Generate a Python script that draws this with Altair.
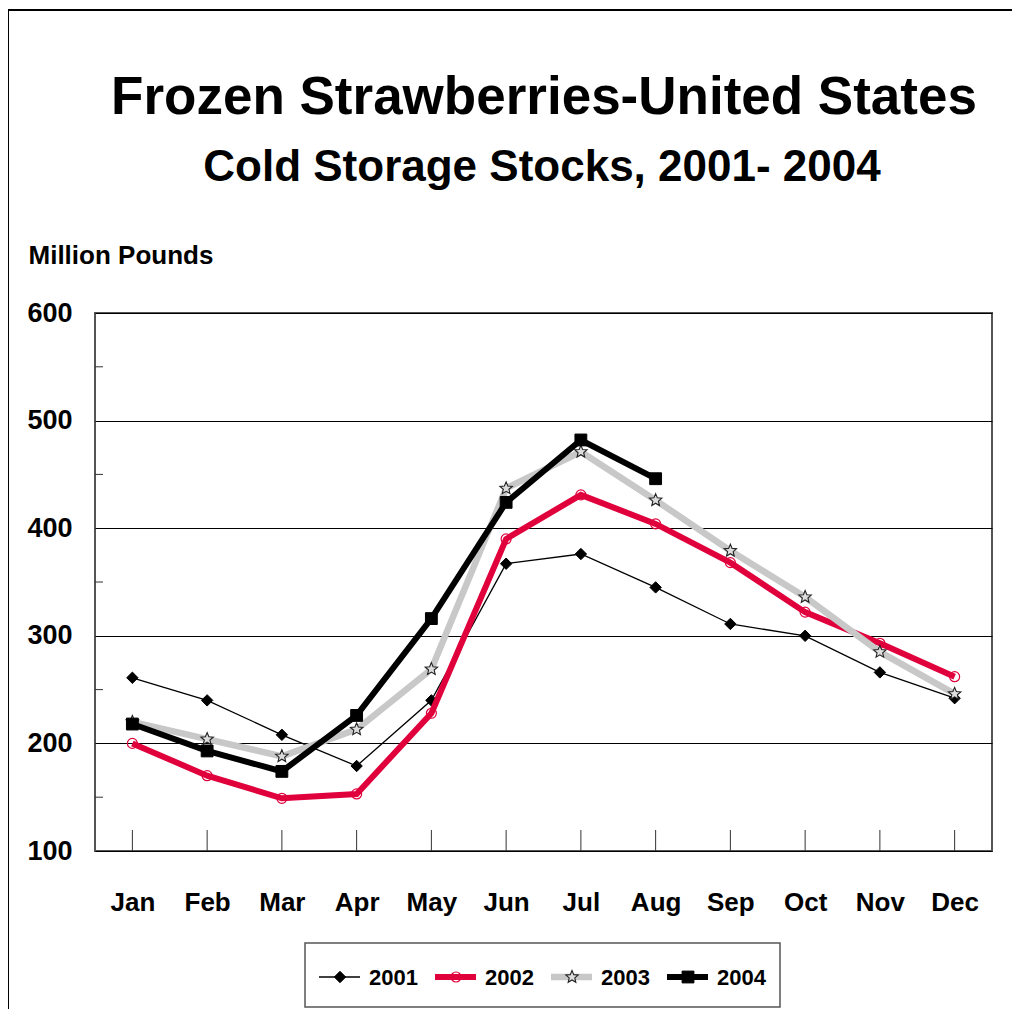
import math
import altair as alt
import pandas as pd

# ---- data ----
months = ["Jan", "Feb", "Mar", "Apr", "May", "Jun", "Jul", "Aug", "Sep", "Oct", "Nov", "Dec"]
years = ["2001", "2002", "2003", "2004"]
v2001 = [261, 240, 208, 179, 240, 367, 376, 345, 311, 300, 266, 242]
v2002 = [200, 170, 149, 153, 228, 390, 431, 404, 368, 322, 293, 262]
v2003 = [220, 204, 188, 213, 269, 437, 471, 426, 379, 336, 285, 246]
v2004 = [218, 193, 174, 226, 316, 424, 482, 446]
y_ticks = [100, 200, 300, 400, 500, 600]
minor_ticks = [150, 250, 350, 450, 550]

title_text = "Frozen Strawberries-United States"
subtitle_text = "Cold Storage Stocks, 2001- 2004"
y_title = "Million Pounds"

FONT = "Liberation Sans, Arial, Helvetica, sans-serif"

series = {"2001": v2001, "2002": v2002, "2003": v2003, "2004": v2004}

# star symbol path in unit coords
pts = []
for k in range(10):
    a = math.radians(-90 + 36 * k)
    r = 1.0 if k % 2 == 0 else 0.45
    pts.append(f"{r * math.cos(a):.3f},{r * math.sin(a):.3f}")
STAR = "M" + "L".join(pts) + "Z"

RED = "#E0003C"
GRAY = "#C8C8C8"
styles = {
    "2001": dict(line="black", lw=1.3, shape="diamond", size=130, filled=True, fill="black", stroke="black", sw=1),
    "2002": dict(line=RED, lw=6, shape="circle", size=100, filled=False, fill=None, stroke=RED, sw=1.2),
    "2003": dict(line=GRAY, lw=6.5, shape=STAR, size=170, filled=True, fill="#DDDDDD", stroke="#222222", sw=1.1),
    "2004": dict(line="black", lw=6, shape="square", size=140, filled=True, fill="black", stroke="black", sw=1),
}

W, H = 897, 538

xenc = alt.X("month:N", sort=months, scale=alt.Scale(type="point", padding=0.5),
             axis=alt.Axis(title=None))
yscale = alt.Scale(domain=[100, 600], nice=False, zero=False)
yenc = alt.Y("value:Q", scale=yscale,
             axis=alt.Axis(values=y_ticks, title=y_title, titleAngle=0, titleX=-67, titleY=-50,
                           titleAlign="left", titleBaseline="alphabetic"))

layers = []

# inside x ticks
tick_df = pd.DataFrame({"month": months})
layers.append(alt.Chart(tick_df).mark_rule(color="#333333", strokeWidth=1).encode(
    x=xenc, y=alt.value(H - 21), y2=alt.value(H)))

# minor y ticks
minor_df = pd.DataFrame({"value": minor_ticks})
layers.append(alt.Chart(minor_df).mark_rule(color="#333333", strokeWidth=1).encode(
    y=yenc, x=alt.value(0), x2=alt.value(8)))

for yr in years:
    vals = series[yr]
    df = pd.DataFrame({"month": months[:len(vals)], "value": vals, "year": yr})
    st = styles[yr]
    base = alt.Chart(df)
    layers.append(base.mark_line(color=st["line"], strokeWidth=st["lw"], strokeJoin="miter").encode(
        x=xenc, y=yenc))
    pkw = dict(shape=st["shape"], size=st["size"], filled=st["filled"], stroke=st["stroke"],
               strokeWidth=st["sw"], opacity=1)
    if st["fill"] is not None:
        pkw["fill"] = st["fill"]
    layers.append(base.mark_point(**pkw).encode(x=xenc, y=yenc))

# titles
tdf = pd.DataFrame({"t": [title_text]})
layers.append(alt.Chart(tdf).mark_text(font=FONT, fontSize=53, fontWeight="bold", color="black",
                                       align="center", baseline="alphabetic").encode(
    text="t:N", x=alt.value(449), y=alt.value(-199)))
sdf = pd.DataFrame({"t": [subtitle_text]})
layers.append(alt.Chart(sdf).mark_text(font=FONT, fontSize=44, fontWeight="bold", color="black",
                                       align="center", baseline="alphabetic").encode(
    text="t:N", x=alt.value(447), y=alt.value(-132)))

# outer frame lines (top and left)
one = pd.DataFrame({"a": [0]})
layers.append(alt.Chart(one).mark_rule(color="black", strokeWidth=2).encode(
    x=alt.value(-87), y=alt.value(-303), y2=alt.value(H + 160)))
layers.append(alt.Chart(one).mark_rule(color="black", strokeWidth=2).encode(
    x=alt.value(-88), x2=alt.value(W + 40), y=alt.value(-303)))

# legend box
layers.append(alt.Chart(one).mark_rect(fill="white", stroke="#555555", strokeWidth=1.5).encode(
    x=alt.value(210), x2=alt.value(685), y=alt.value(630), y2=alt.value(694)))

for i, yr in enumerate(years):
    st = styles[yr]
    ldf = pd.DataFrame({"year": [yr]})
    x0 = 224 + 116 * i
    layers.append(alt.Chart(ldf).mark_rule(color=st["line"], strokeWidth=st["lw"]).encode(
        x=alt.value(x0), x2=alt.value(x0 + 41), y=alt.value(664)))
    pkw = dict(shape=st["shape"], size=st["size"], filled=st["filled"], stroke=st["stroke"],
               strokeWidth=st["sw"], opacity=1)
    if st["fill"] is not None:
        pkw["fill"] = st["fill"]
    layers.append(alt.Chart(ldf).mark_point(**pkw).encode(x=alt.value(x0 + 21), y=alt.value(664)))
    layers.append(alt.Chart(ldf).mark_text(font=FONT, fontSize=22, fontWeight="bold", color="black",
                                           align="left", baseline="middle").encode(
        text="year:N", x=alt.value(x0 + 50), y=alt.value(665)))

chart = alt.layer(*layers).properties(
    width=W, height=H,
    background="white",
    autosize=alt.AutoSizeParams(type="none"),
    padding={"left": 87, "top": 305, "right": 20, "bottom": 158},
).configure_view(
    stroke="#555555", strokeWidth=2
).configure_axisY(
    labelFont=FONT, labelFontSize=27, labelFontWeight="bold", labelColor="black", labelPadding=23,
    domain=False, ticks=False, grid=True, gridColor="black", gridWidth=1, gridOpacity=1,
    titleFont=FONT, titleFontSize=26, titleFontWeight="bold", titleColor="black",
).configure_axisX(
    labelFont=FONT, labelFontSize=26, labelFontWeight="bold", labelColor="black", labelPadding=38,
    domain=False, ticks=False, grid=False, labelAngle=0,
)

chart.save("out.html", embed_options={"renderer": "svg", "actions": False})
